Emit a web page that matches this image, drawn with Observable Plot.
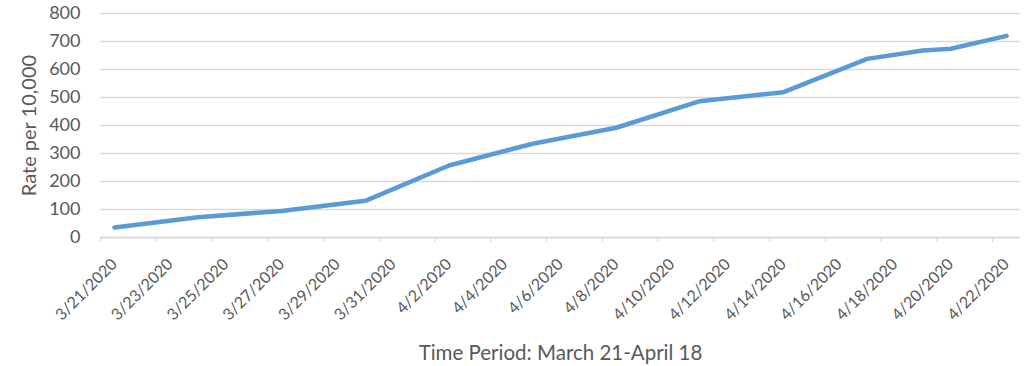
<!DOCTYPE html>
<html>
<head>
<meta charset="utf-8">
<script src="https://cdn.jsdelivr.net/npm/d3@7"></script>
<script src="https://cdn.jsdelivr.net/npm/@observablehq/plot@0.6"></script>
<style>
  html, body { margin: 0; padding: 0; background: #fff; }
  #chart svg { display: block; }
  #chart svg g[aria-label="y-axis tick label"] text { font-size: 18px !important; }
  #chart svg g[aria-label="x-axis tick label"] text { font-size: 16px !important; }
  #chart svg g[aria-label="y-axis label"] text { font-size: 20px !important; }
  #chart svg g[aria-label="x-axis label"] text { font-size: 20.5px !important; }
</style>
</head>
<body>
<div id="chart"></div>
<script>
// Dates where the line changes slope
const pointDates = ["3/21/2020","3/24/2020","3/27/2020","3/30/2020","4/2/2020","4/5/2020","4/8/2020","4/11/2020","4/14/2020","4/17/2020","4/19/2020","4/20/2020","4/22/2020"];
const rateValues = [36, 72, 95, 131, 257, 335, 392, 487, 519, 638, 668, 674, 720];

// Axis tick labels
const tickLabels = ["3/21/2020","3/23/2020","3/25/2020","3/27/2020","3/29/2020","3/31/2020","4/2/2020","4/4/2020","4/6/2020","4/8/2020","4/10/2020","4/12/2020","4/14/2020","4/16/2020","4/18/2020","4/20/2020","4/22/2020"];
const yTicks = [0, 100, 200, 300, 400, 500, 600, 700, 800];
const domainStart = "3/21/2020";
const domainEnd = "4/23/2020";

const parse = d3.utcParse("%m/%d/%Y");
const mid = s => d3.utcHour.offset(parse(s), 12);

const data = pointDates.map((d, i) => ({date: mid(d), rate: rateValues[i]}));
const tickDays = tickLabels.map(parse);
const labelDays = tickLabels.map(mid);
const fmt = d => `${d.getUTCMonth() + 1}/${d.getUTCDate()}/${d.getUTCFullYear()}`;

const chart = Plot.plot({
  width: 1035,
  height: 366,
  marginLeft: 100,
  marginRight: 15,
  marginTop: 13,
  marginBottom: 129,
  style: {fontFamily: "Lato, 'Open Sans', sans-serif", fontSize: "16px", color: "#595959", background: "#fff"},
  x: {type: "utc", domain: [parse(domainStart), parse(domainEnd)]},
  y: {domain: [0, 800]},
  marks: [
    Plot.gridY(yTicks, {stroke: "#d9d9d9", strokeOpacity: 1, strokeWidth: 1.3}),
    Plot.ruleY([0], {stroke: "#d9d9d9", strokeWidth: 1.3}),
    Plot.axisY(yTicks, {tickSize: 0, tickPadding: 20, label: "Rate per 10,000", labelAnchor: "center", labelArrow: "none", labelOffset: 79}),
    Plot.axisX(tickDays, {tickSize: 5, stroke: "#d9d9d9", strokeOpacity: 1, tickFormat: () => "", label: null}),
    Plot.axisX(labelDays, {tickSize: 0, tickPadding: 24, tickRotate: -45, tickFormat: fmt, label: "Time Period: March 21-April 18", labelAnchor: "center", labelArrow: "none", labelOffset: 122}),
    Plot.line(data, {x: "date", y: "rate", stroke: "#5b9bd5", strokeWidth: 4.5, strokeLinejoin: "round", strokeLinecap: "round"})
  ]
});
document.getElementById("chart").append(chart);
</script>
</body>
</html>
